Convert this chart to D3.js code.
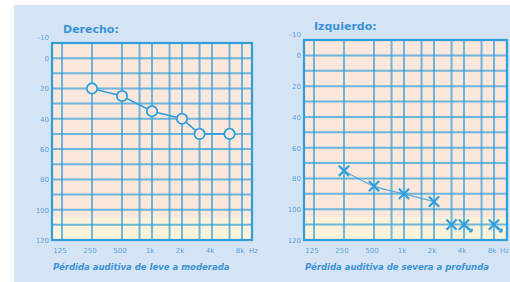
<!DOCTYPE html>
<html>
<head>
<meta charset="utf-8">
<script src="https://cdn.jsdelivr.net/npm/d3@7"></script>
<style>
  body { margin: 0; background: #ffffff; }
  svg { display: block; font-family: "DejaVu Sans", sans-serif; }
</style>
</head>
<body>
<div id="chart"></div>
<script>
// Data
var freqTicks = [125, 250, 500, 1000, 2000, 4000, 8000];
var freqLabels = ["125", "250", "500", "1k", "2k", "4k", "8k"];
var freqGrid = [125, 250, 500, 750, 1000, 1500, 2000, 3000, 4000, 6000, 8000];
var dbTicks = [-10, 0, 20, 40, 60, 80, 100, 120];
var dbGrid = [0, 10, 20, 30, 40, 50, 60, 70, 80, 90, 100, 110];

var rightFreq = [250, 500, 1000, 2000, 3000, 6000];
var rightDb = [20, 25, 35, 40, 50, 50];

var leftFreq = [250, 500, 1000, 2000];
var leftDb = [75, 85, 90, 95];
var leftNoRespFreq = [3000, 4000, 8000];
var leftNoRespDb = [110, 110, 110];

var svgWidth = 510;
var svgHeight = 282;

var blue = "#2f9fdc";
var textBlue = "#3a93d6";

var svg = d3.select("#chart").append("svg")
    .attr("width", svgWidth)
    .attr("height", svgHeight);

// light blue page background
svg.append("rect")
    .attr("x", 14).attr("y", 5)
    .attr("width", svgWidth - 14).attr("height", svgHeight - 5)
    .attr("fill", "#d5e4f4");

//Draw one audiogram panel
function drawPanel(opts) {
    var x = d3.scaleLog()
        .domain([125, 8000])
        .range([opts.x125, opts.x8k]);
    var y = d3.scaleLinear()
        .domain([-10, 120])
        .range([opts.top, opts.bottom]);

    var g = svg.append("g");

    // paper fill
    g.append("rect")
        .attr("x", opts.left).attr("y", opts.top)
        .attr("width", opts.right - opts.left).attr("height", opts.bottom - opts.top)
        .attr("fill", "#fbe7dc");
    g.append("rect")
        .attr("x", opts.left).attr("y", y(105))
        .attr("width", opts.right - opts.left).attr("height", opts.bottom - y(105))
        .attr("fill", "#fcf2da");

    // grid
    g.selectAll(".hgrid")
        .data(dbGrid)
        .enter()
        .append("line")
        .attr("x1", opts.left).attr("x2", opts.right)
        .attr("y1", d => y(d)).attr("y2", d => y(d))
        .attr("stroke", blue)
        .attr("stroke-opacity", 0.7)
        .attr("stroke-width", 2);

    g.selectAll(".vgrid")
        .data(freqGrid)
        .enter()
        .append("line")
        .attr("x1", d => x(d)).attr("x2", d => x(d))
        .attr("y1", opts.top).attr("y2", opts.bottom)
        .attr("stroke", blue)
        .attr("stroke-opacity", 0.7)
        .attr("stroke-width", 2);

    // border
    g.append("rect")
        .attr("x", opts.left).attr("y", opts.top)
        .attr("width", opts.right - opts.left).attr("height", opts.bottom - opts.top)
        .attr("fill", "none")
        .attr("stroke", blue)
        .attr("stroke-width", 2.2);

    // y tick labels
    g.selectAll(".ylab")
        .data(dbTicks)
        .enter()
        .append("text")
        .attr("x", opts.left - 3)
        .attr("y", d => d === -10 ? y(d) - 3 : y(d) + 3)
        .attr("text-anchor", "end")
        .attr("font-size", "7px")
        .attr("fill", textBlue)
        .attr("fill-opacity", 0.85)
        .text(d => d);

    // x tick labels
    g.selectAll(".xlab")
        .data(freqTicks)
        .enter()
        .append("text")
        .attr("x", d => x(d) - 2)
        .attr("y", opts.bottom + 13)
        .attr("text-anchor", "middle")
        .attr("font-size", "7px")
        .attr("fill", textBlue)
        .attr("fill-opacity", 0.85)
        .text((d, i) => freqLabels[i]);

    g.append("text")
        .attr("x", opts.hzX)
        .attr("y", opts.bottom + 13)
        .attr("text-anchor", "end")
        .attr("font-size", "7px")
        .attr("fill", textBlue)
        .attr("fill-opacity", 0.85)
        .text("Hz");

    // title
    g.append("text")
        .attr("x", opts.titleX)
        .attr("y", opts.top - 10)
        .attr("font-size", "11px")
        .attr("font-weight", "bold")
        .attr("fill", textBlue)
        .text(opts.title);

    // caption
    g.append("text")
        .attr("x", opts.left + 1)
        .attr("y", 270)
        .attr("font-size", "8.5px")
        .attr("font-weight", "bold")
        .attr("font-style", "italic")
        .attr("fill", textBlue)
        .text(opts.caption);

    return { g: g, x: x, y: y };
}

// Derecho (right ear, circles)
var p1 = drawPanel({
    left: 52, right: 252, top: 43, bottom: 240,
    x125: 62, x8k: 242, hzX: 258,
    title: "Derecho:", titleX: 63,
    caption: "Pérdida auditiva de leve a moderada"
});

var rightPts = rightFreq.map((f, i) => [f, rightDb[i]]);

p1.g.append("path")
    .datum(rightPts)
    .attr("fill", "none")
    .attr("stroke", blue)
    .attr("stroke-width", 1.6)
    .attr("d", d3.line().x(d => p1.x(d[0])).y(d => p1.y(d[1])));

p1.g.selectAll(".circ")
    .data(rightPts)
    .enter()
    .append("circle")
    .attr("cx", d => p1.x(d[0]))
    .attr("cy", d => p1.y(d[1]))
    .attr("r", 5.2)
    .attr("fill", "#fbe7dc")
    .attr("stroke", blue)
    .attr("stroke-width", 1.8);

// Izquierdo (left ear, crosses)
var p2 = drawPanel({
    left: 304, right: 507, top: 40, bottom: 240,
    x125: 314, x8k: 494, hzX: 509,
    title: "Izquierdo:", titleX: 314,
    caption: "Pérdida auditiva de severa a profunda"
});

var leftPts = leftFreq.map((f, i) => [f, leftDb[i]]);
var noRespPts = leftNoRespFreq.map((f, i) => [f, leftNoRespDb[i]]);

p2.g.append("path")
    .datum(leftPts)
    .attr("fill", "none")
    .attr("stroke", blue)
    .attr("stroke-opacity", 0.8)
    .attr("stroke-width", 1.3)
    .attr("d", d3.line().curve(d3.curveMonotoneX).x(d => p2.x(d[0])).y(d => p2.y(d[1])));

var cross = d3.symbol().type(d3.symbolX).size(70);

p2.g.selectAll(".cross")
    .data(leftPts.concat(noRespPts))
    .enter()
    .append("path")
    .attr("transform", d => `translate(${p2.x(d[0])}, ${p2.y(d[1])})`)
    .attr("d", cross)
    .attr("fill", "none")
    .attr("stroke", blue)
    .attr("stroke-width", 2.2);

// small arrows on the no-response marks
p2.g.selectAll(".arrow")
    .data(noRespPts.slice(1))
    .enter()
    .append("path")
    .attr("transform", d => `translate(${p2.x(d[0])}, ${p2.y(d[1])})`)
    .attr("d", "M3,2 L8,7 M8,7 L5,7 M8,7 L8,4")
    .attr("fill", "none")
    .attr("stroke", blue)
    .attr("stroke-width", 1.6);
</script>
</body>
</html>
